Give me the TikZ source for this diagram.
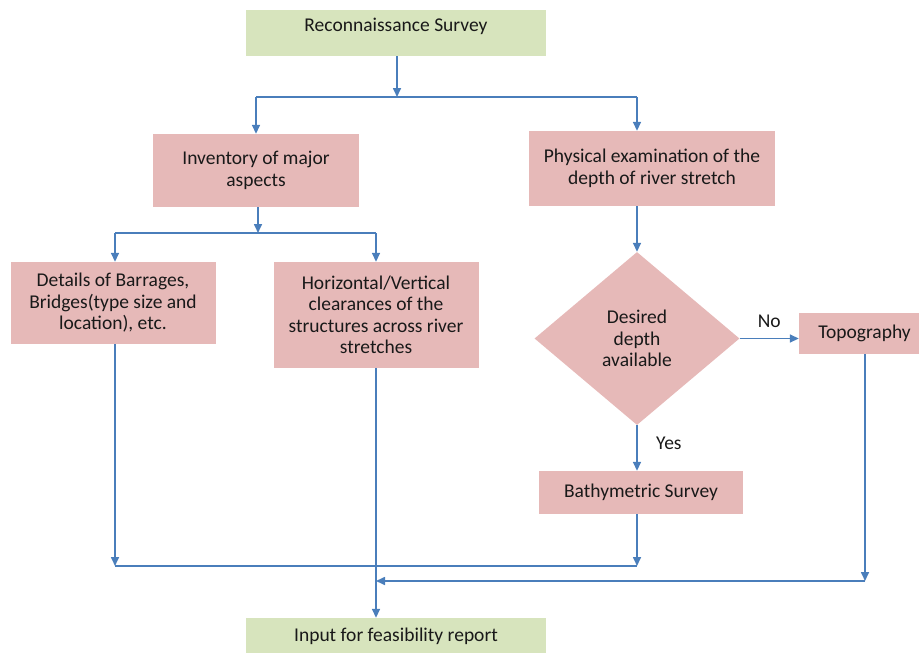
\documentclass[tikz,border=0pt]{standalone}
\usepackage{fontspec}
\setmainfont{Carlito}
\usetikzlibrary{arrows.meta,shapes.geometric,calc}
\definecolor{pinkbox}{HTML}{E6B9B8}
\definecolor{greenbox}{HTML}{D7E4BD}
\definecolor{linkblue}{HTML}{4A7EBB}
\begin{document}
\begin{tikzpicture}[x=1pt,y=-1pt,
  every node/.style={font=\fontsize{19.5}{21.5}\selectfont, text=black!90},
  pbox/.style={fill=pinkbox, draw=none, inner sep=0pt, align=center},
  gbox/.style={fill=greenbox, draw=none, inner sep=0pt, align=center},
  arr/.style={draw=linkblue, line width=1.6pt, -{Triangle[length=9pt,width=8pt]}},
  ln/.style={draw=linkblue, line width=1.6pt}]
\useasboundingbox (0,0) rectangle (919,653);
\begin{scope}
\clip (0,0) rectangle (919,653);
\node[gbox, minimum width=300pt, minimum height=46pt, text depth=16pt] (recon) at (396,33) {Reconnaissance Survey};
\node[pbox, minimum width=206pt, minimum height=73pt] (inv) at (256,170.5) {Inventory of major\\aspects};
\node[pbox, minimum width=246pt, minimum height=75pt] (phys) at (652,168.5) {Physical examination of the\\depth of river stretch};
\node[pbox, minimum width=205pt, minimum height=82pt] (det) at (113,303) {Details of Barrages,\\Bridges(type size and\\location), etc.};
\node[pbox, minimum width=205pt, minimum height=106pt] (hor) at (376,315) {Horizontal/Vertical\\clearances of the\\structures across river\\stretches};
\node[pbox, diamond, aspect=1.185, minimum width=205pt, minimum height=173pt] (dia) at (637,338.5) {Desired\\depth\\available};
\node[pbox, minimum width=131pt, minimum height=41pt] (topo) at (864.5,333.5) {Topography};
\node[pbox, minimum width=204pt, minimum height=43pt] (bath) at (641,492.5) {Bathymetric Survey};
\node[gbox, minimum width=300pt, minimum height=36pt] (inp) at (396,636) {Input for feasibility report};
\end{scope}

\coordinate (j1) at (397,97);
\coordinate (j2) at (258,233);
\coordinate (j3) at (376,566);
\coordinate (j4) at (865,581);
\coordinate (j5) at (376,581);
\coordinate (jd) at (115,0);

\draw[arr] (recon.south -| j1) -- (j1);
\draw[ln] (inv.north |- j1) -- (dia |- j1);
\draw[arr] (inv.north |- j1) -- (inv.north);
\draw[arr] (dia |- j1) -- (dia |- phys.north);

\draw[arr] (inv.south -| j2) -- (j2);
\draw[ln] (jd |- j2) -- (hor.north |- j2);
\draw[arr] (jd |- j2) -- (jd |- det.north);
\draw[arr] (hor.north |- j2) -- (hor.north);

\draw[arr] (dia |- phys.south) -- (dia.north);
\draw[arr] (dia.east) -- node[above=7pt] {No} (topo.west |- dia.east);
\draw[arr] (dia.south) -- node[pos=0.4, right=15pt] {Yes} (dia.south |- bath.north);

\draw[arr] (jd |- det.south) -- (jd |- j3);
\draw[arr] (dia |- bath.south) -- (dia |- j3);
\draw[ln] (jd |- j3) -- (dia |- j3);

\draw[arr] (hor.south) -- (hor.south |- inp.north);
\draw[arr] (topo.south -| j4) -- (j4);
\draw[arr] (j4) -- (j5);
\end{tikzpicture}
\end{document}
